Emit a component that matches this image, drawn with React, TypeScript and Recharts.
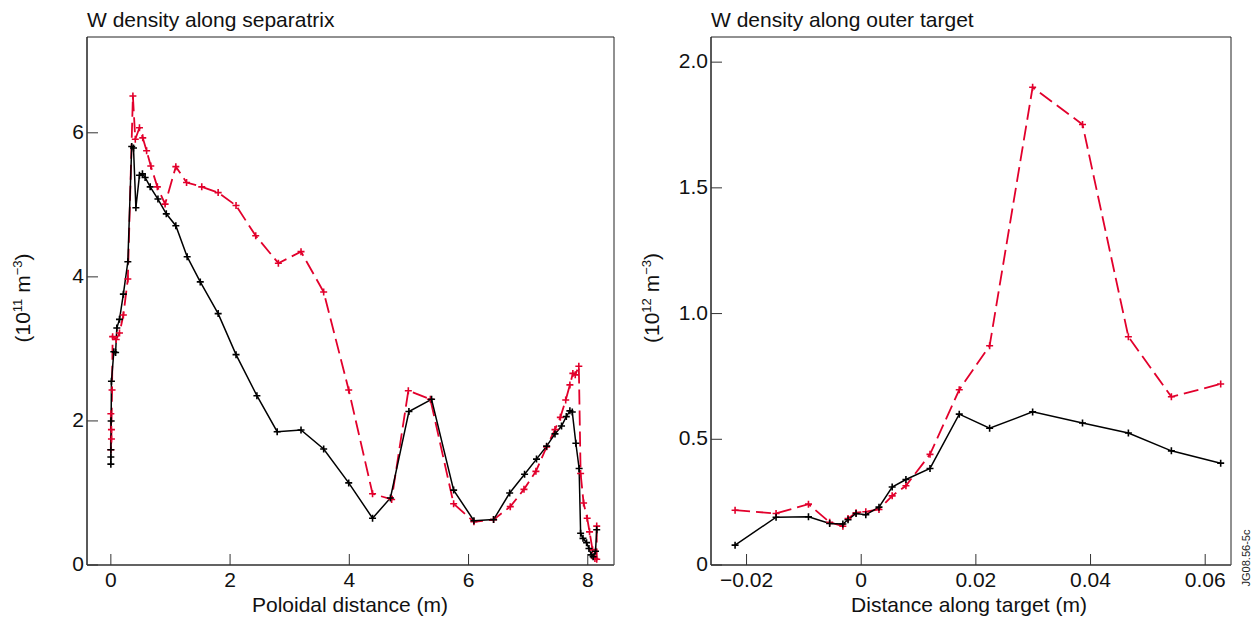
import { LineChart, Line, XAxis, YAxis, ReferenceArea } from "recharts";

// separatrix, black (solid)
const sepDistBlack = [0, 0, 0, 0.005, 0.01, 0.05, 0.08, 0.1, 0.145, 0.21, 0.285, 0.35, 0.38, 0.42, 0.48, 0.53, 0.575, 0.66, 0.79, 0.93, 1.09, 1.28, 1.5, 1.8, 2.1, 2.45, 2.79, 3.19, 3.57, 3.99, 4.39, 4.69, 5.0, 5.38, 5.75, 6.09, 6.42, 6.69, 6.94, 7.14, 7.31, 7.45, 7.56, 7.64, 7.7, 7.74, 7.8, 7.855, 7.88, 7.92, 7.98, 8.02, 8.06, 8.09, 8.13, 8.15];
const sepDensBlack = [1.4, 1.5, 1.6, 2.0, 2.55, 2.96, 2.95, 3.29, 3.41, 3.76, 4.21, 5.81, 5.79, 4.96, 5.41, 5.43, 5.38, 5.25, 5.08, 4.875, 4.71, 4.28, 3.93, 3.49, 2.92, 2.35, 1.85, 1.875, 1.61, 1.14, 0.65, 0.93, 2.13, 2.3, 1.04, 0.615, 0.63, 1.0, 1.26, 1.47, 1.65, 1.82, 1.93, 2.06, 2.14, 2.125, 1.69, 1.34, 0.44, 0.37, 0.31, 0.23, 0.14, 0.115, 0.19, 0.49];

// separatrix, red (dashed)
const sepDistRed = [0, 0, 0.01, 0.01, 0.02, 0.03, 0.09, 0.145, 0.21, 0.285, 0.37, 0.41, 0.48, 0.535, 0.6, 0.67, 0.78, 0.91, 1.09, 1.27, 1.525, 1.8, 2.1, 2.43, 2.81, 3.19, 3.57, 3.99, 4.39, 4.71, 4.99, 5.36, 5.75, 6.09, 6.42, 6.7, 6.93, 7.13, 7.31, 7.45, 7.54, 7.63, 7.7, 7.75, 7.79, 7.85, 7.88, 7.93, 7.99, 8.03, 8.08, 8.12, 8.15, 8.15];
const sepDensRed = [2.1, 1.6, 1.75, 1.88, 2.43, 3.17, 3.13, 3.22, 3.47, 3.97, 6.51, 5.91, 6.07, 5.93, 5.75, 5.54, 5.25, 5.01, 5.53, 5.31, 5.25, 5.17, 4.99, 4.57, 4.19, 4.35, 3.79, 2.43, 0.99, 0.91, 2.42, 2.3, 0.85, 0.6, 0.63, 0.81, 1.05, 1.3, 1.64, 1.88, 2.05, 2.29, 2.5, 2.66, 2.64, 2.76, 1.27, 0.86, 0.65, 0.46, 0.21, 0.09, 0.08, 0.54];

// outer target
const tgtDist = [-0.022, -0.01485, -0.0092, -0.0055, -0.0032, -0.0023, -0.0009, 0.0008, 0.0031, 0.0054, 0.0078, 0.012, 0.0171, 0.0224, 0.0299, 0.0386, 0.0466, 0.0541, 0.0627];
const tgtDensBlack = [0.079, 0.19, 0.192, 0.165, 0.163, 0.18, 0.205, 0.2, 0.23, 0.31, 0.34, 0.384, 0.6, 0.544, 0.609, 0.565, 0.525, 0.454, 0.405];
const tgtDensRed = [0.218, 0.205, 0.242, 0.17, 0.154, 0.185, 0.208, 0.212, 0.221, 0.275, 0.315, 0.44, 0.697, 0.872, 1.9, 1.752, 0.908, 0.669, 0.72];

const sepXTicks = [0, 2, 4, 6, 8];
const sepYTicks = [0, 2, 4, 6];
const tgtXTicks = [-0.02, 0, 0.02, 0.04, 0.06];
const tgtYTicks = [0, 0.5, 1.0, 1.5, 2.0];

const RED = "#e2002c";
const FONT = "'Liberation Sans', Arial, Helvetica, sans-serif";
const FS = 21;

const zip = (xs: number[], ys: number[]) => xs.map((x, i) => ({ x, y: ys[i] }));

const plusDot = (color: string) => (props: any) => {
  const { cx, cy, index } = props;
  if (cx == null || cy == null) return <g key={index} />;
  return (
    <path
      key={index}
      d={`M${cx - 3.5},${cy}H${cx + 3.5}M${cx},${cy - 3.5}V${cy + 3.5}`}
      stroke={color}
      strokeWidth={1.6}
      fill="none"
    />
  );
};

const xTick = (fmt: (v: number) => string) => (props: any) => {
  const { x, y, payload } = props;
  return (
    <g>
      <line x1={x} y1={y} x2={x} y2={y - 11} stroke="#333" strokeWidth={1} />
      <text x={x} y={y + 22} textAnchor="middle" fontSize={FS} fontFamily={FONT} fill="#111">
        {fmt(payload.value)}
      </text>
    </g>
  );
};

const yTick = (fmt: (v: number) => string) => (props: any) => {
  const { x, y, payload } = props;
  return (
    <g>
      <line x1={x} y1={y} x2={x + 11} y2={y} stroke="#333" strokeWidth={1} />
      <text x={x - 3} y={y + 6} textAnchor="end" fontSize={FS} fontFamily={FONT} fill="#111">
        {fmt(payload.value)}
      </text>
    </g>
  );
};

const minus = (v: number) => (v < 0 ? "\u2212" + Math.abs(v) : String(v));

function Panel(props: {
  left: number;
  width: number;
  marginLeft: number;
  marginRight: number;
  xDomain: [number, number];
  yDomain: [number, number];
  xTicks: number[];
  yTicks: number[];
  xFmt: (v: number) => string;
  yFmt: (v: number) => string;
  black: { x: number; y: number }[];
  red: { x: number; y: number }[];
}) {
  const { xDomain, yDomain } = props;
  return (
    <div style={{ position: "absolute", left: props.left, top: 0 }}>
      <LineChart
        width={props.width}
        height={622}
        margin={{ top: 37, right: props.marginRight, left: props.marginLeft, bottom: 27 }}
      >
        <XAxis
          type="number"
          dataKey="x"
          domain={xDomain}
          ticks={props.xTicks}
          allowDataOverflow
          height={30}
          tickSize={0}
          tickMargin={0}
          tickLine={false}
          axisLine={{ stroke: "#555", strokeWidth: 1.5 }}
          tick={xTick(props.xFmt)}
          interval={0}
        />
        <YAxis
          type="number"
          dataKey="y"
          domain={yDomain}
          ticks={props.yTicks}
          allowDataOverflow
          width={60}
          tickSize={0}
          tickMargin={0}
          tickLine={false}
          axisLine={{ stroke: "#222" }}
          tick={yTick(props.yFmt)}
          interval={0}
        />
        <ReferenceArea
          x1={xDomain[0]}
          x2={xDomain[1]}
          y1={yDomain[0]}
          y2={yDomain[1]}
          fill="none"
          fillOpacity={0}
          stroke="#222"
          strokeWidth={1}
        />
        <Line
          data={props.red}
          dataKey="y"
          type="linear"
          stroke={RED}
          strokeWidth={1.8}
          strokeDasharray="15 6"
          dot={plusDot(RED)}
          isAnimationActive={false}
        />
        <Line
          data={props.black}
          dataKey="y"
          type="linear"
          stroke="#000"
          strokeWidth={1.5}
          dot={plusDot("#000")}
          isAnimationActive={false}
        />
      </LineChart>
    </div>
  );
}

export default function App() {
  const textStyle = { fontFamily: FONT, fontSize: FS, fill: "#111" };
  return (
    <div style={{ position: "absolute", left: 0, top: 0, width: 1259, height: 622, background: "#fff" }}>
      <Panel
        left={0}
        width={640}
        marginLeft={27}
        marginRight={26}
        xDomain={[-0.4, 8.44]}
        yDomain={[0, 7.33]}
        xTicks={sepXTicks}
        yTicks={sepYTicks}
        xFmt={minus}
        yFmt={(v) => String(v)}
        black={zip(sepDistBlack, sepDensBlack)}
        red={zip(sepDistRed, sepDensRed)}
      />
      <Panel
        left={624}
        width={635}
        marginLeft={27}
        marginRight={28}
        xDomain={[-0.0262, 0.0645]}
        yDomain={[0, 2.1]}
        xTicks={tgtXTicks}
        yTicks={tgtYTicks}
        xFmt={minus}
        yFmt={(v) => (v === 0 ? "0" : v.toFixed(1))}
        black={zip(tgtDist, tgtDensBlack)}
        red={zip(tgtDist, tgtDensRed)}
      />
      <svg width={1259} height={622} style={{ position: "absolute", left: 0, top: 0, pointerEvents: "none" }}>
        <text x={87} y={27} {...textStyle}>W density along separatrix</text>
        <text x={711} y={27} {...textStyle}>W density along outer target</text>
        <text x={350} y={612} textAnchor="middle" {...textStyle}>Poloidal distance (m)</text>
        <text x={969} y={612} textAnchor="middle" {...textStyle}>Distance along target (m)</text>
        <text transform="translate(30,298) rotate(-90)" textAnchor="middle" {...textStyle}>
          (10<tspan fontSize={13} dy={-8}>11</tspan>
          <tspan dy={8}> m</tspan>
          <tspan fontSize={13} dy={-8}>{"\u22123"}</tspan>
          <tspan dy={8}>)</tspan>
        </text>
        <text transform="translate(659,298) rotate(-90)" textAnchor="middle" {...textStyle}>
          (10<tspan fontSize={13} dy={-8}>12</tspan>
          <tspan dy={8}> m</tspan>
          <tspan fontSize={13} dy={-8}>{"\u22123"}</tspan>
          <tspan dy={8}>)</tspan>
        </text>
        <text transform="translate(1250,558) rotate(-90)" textAnchor="middle" fontFamily={FONT} fontSize={11} fill="#222">
          JG08.56-5c
        </text>
      </svg>
    </div>
  );
}
